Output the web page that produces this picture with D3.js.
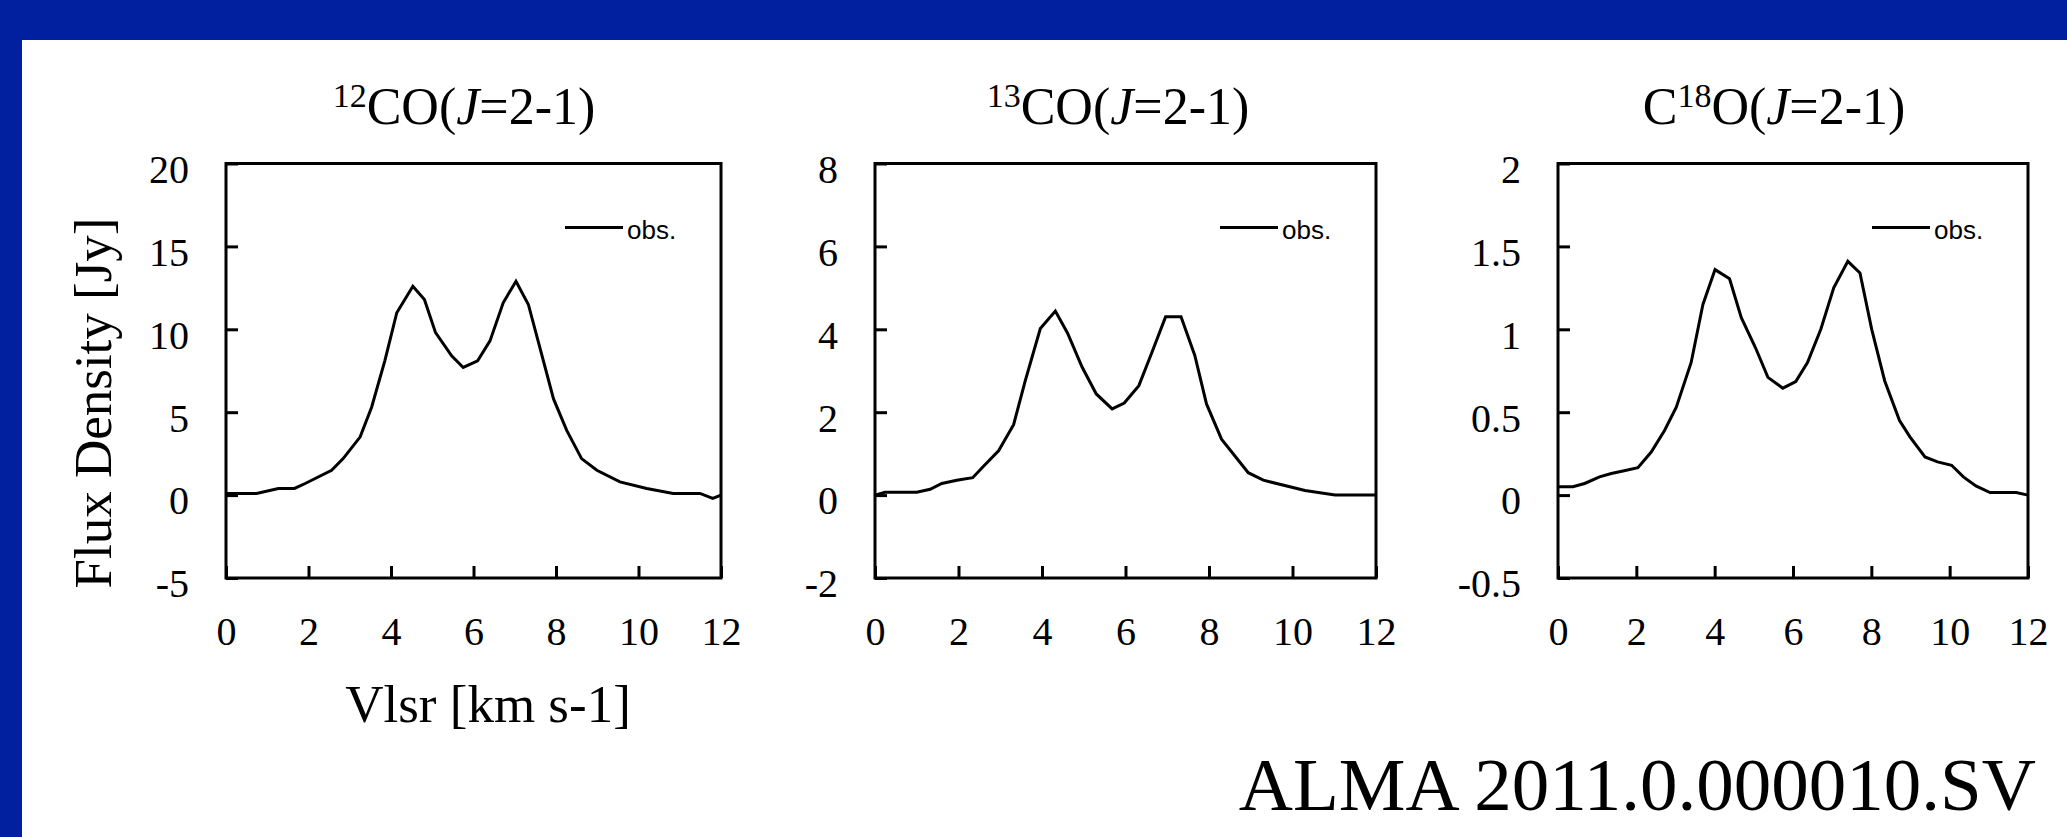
<!DOCTYPE html>
<html>
<head>
<meta charset="utf-8">
<script src="https://cdn.jsdelivr.net/npm/d3@7"></script>
<style>
  html, body { margin: 0; padding: 0; background: #fff; }
  svg { display: block; }
  .serif { font-family: "Liberation Serif", "Times New Roman", serif; fill: #000; }
  .tick text { font-family: "Liberation Serif", "Times New Roman", serif; font-size: 40px; fill: #000; }
  .legend-text { font-family: "Liberation Sans", Arial, sans-serif; font-size: 26px; fill: #000; }
</style>
</head>
<body>
<svg id="chart" width="2067" height="837"></svg>
<script>
// velocity axis (km/s), shared by all panels
const velocityTicks = [0, 2, 4, 6, 8, 10, 12];

// 12CO(J=2-1)
const co12Vel = [0, 0.74, 1.27, 1.66, 1.92, 2.56, 2.84, 3.25, 3.53, 3.85, 4.14, 4.53, 4.81, 5.08, 5.47, 5.75,
  6.1, 6.4, 6.72, 7.03, 7.33, 7.63, 7.94, 8.26, 8.62, 8.99, 9.55, 10.2, 10.84, 11.49, 11.8, 12.0];
const co12Flux = [0.1, 0.1, 0.4, 0.4, 0.7, 1.5, 2.2, 3.5, 5.3, 8.1, 11.0, 12.6, 11.8, 9.8, 8.4, 7.7,
  8.1, 9.3, 11.6, 12.9, 11.5, 8.7, 5.8, 3.9, 2.2, 1.5, 0.8, 0.4, 0.1, 0.1, -0.2, 0.0];
const co12Ticks = [-5, 0, 5, 10, 15, 20];

// 13CO(J=2-1)
const co13Vel = [0, 0.24, 1.0, 1.32, 1.6, 1.96, 2.34, 2.64, 2.96, 3.32, 3.6, 3.96, 4.32, 4.61, 4.96, 5.3,
  5.68, 5.97, 6.32, 6.62, 6.96, 7.33, 7.66, 7.94, 8.3, 8.94, 9.3, 10.3, 11.02, 12.0];
const co13Flux = [0, 0.07, 0.07, 0.14, 0.28, 0.36, 0.42, 0.74, 1.07, 1.7, 2.76, 4.02, 4.44, 3.91, 3.09, 2.44,
  2.08, 2.22, 2.64, 3.41, 4.3, 4.3, 3.37, 2.2, 1.35, 0.54, 0.36, 0.11, 0.0, 0.0];
const co13Ticks = [-2, 0, 2, 4, 6, 8];

// C18O(J=2-1)
const c18oVel = [0, 0.38, 0.68, 1.06, 1.36, 1.66, 2.04, 2.38, 2.72, 3.02, 3.4, 3.7, 4.01, 4.38, 4.68, 5.04,
  5.36, 5.74, 6.07, 6.37, 6.71, 7.04, 7.4, 7.71, 8.01, 8.34, 8.72, 8.99, 9.37, 9.69, 10.05, 10.35,
  10.67, 11.03, 11.7, 12.0];
const c18oFlux = [0.05, 0.05, 0.07, 0.11, 0.13, 0.145, 0.165, 0.26, 0.39, 0.53, 0.8, 1.15, 1.36, 1.305, 1.07, 0.89,
  0.71, 0.645, 0.685, 0.8, 1.0, 1.25, 1.41, 1.34, 1.0, 0.69, 0.45, 0.35, 0.23, 0.2, 0.18, 0.11,
  0.055, 0.015, 0.015, 0.0];
const c18oTicks = [-0.5, 0, 0.5, 1, 1.5, 2];

const legendLabel = "obs.";
const xAxisTitle = "Vlsr [km s-1]";
const yAxisTitle = "Flux Density [Jy]";
const footerText = "ALMA 2011.0.000010.SV";

// layout
const W = 2067, H = 837;
const BLUE = "#0020a0";
const plotTop = 163.5, plotBottom = 578;

const panels = [
  {
    vel: co12Vel, flux: co12Flux, ticks: co12Ticks, left: 226, right: 721, titleX: 464,
    title: [{ t: "12", sup: true }, { t: "CO(" }, { t: "J", it: true }, { t: "=2-1)" }],
  },
  {
    vel: co13Vel, flux: co13Flux, ticks: co13Ticks, left: 875, right: 1376, titleX: 1118,
    title: [{ t: "13", sup: true }, { t: "CO(" }, { t: "J", it: true }, { t: "=2-1)" }],
  },
  {
    vel: c18oVel, flux: c18oFlux, ticks: c18oTicks, left: 1558, right: 2028, titleX: 1774,
    title: [{ t: "C" }, { t: "18", sup: true }, { t: "O(" }, { t: "J", it: true }, { t: "=2-1)" }],
  },
];

// plain hyphen for negatives, like the original Excel labels
const fmt = (d) => String(d);

const svg = d3.select("#chart");

// slide background
svg.append("rect").attr("width", W).attr("height", H).attr("fill", "#fff");
svg.append("rect").attr("width", W).attr("height", 40).attr("fill", BLUE);
svg.append("rect").attr("width", 22).attr("height", H).attr("fill", BLUE);

panels.forEach((p, i) => {
  const x = d3.scaleLinear().domain([0, 12]).range([p.left, p.right]);
  const y = d3.scaleLinear()
    .domain(d3.extent(p.ticks))
    .range([plotBottom, plotTop]);

  const g = svg.append("g").attr("class", "panel");

  // x axis, ticks pointing inward
  const xAxis = g.append("g")
    .attr("transform", `translate(0,${plotBottom})`)
    .call(d3.axisBottom(x).tickValues(velocityTicks).tickFormat(fmt)
      .tickSizeInner(-12).tickSizeOuter(0).tickPadding(39));
  xAxis.select(".domain").remove();
  xAxis.selectAll(".tick line").attr("stroke", "#000").attr("stroke-width", 3);

  // y axis
  const yAxis = g.append("g")
    .attr("transform", `translate(${p.left},0)`)
    .call(d3.axisLeft(y).tickValues(p.ticks).tickFormat(fmt)
      .tickSizeInner(-12).tickSizeOuter(0).tickPadding(37));
  yAxis.select(".domain").remove();
  yAxis.selectAll(".tick line").attr("stroke", "#000").attr("stroke-width", 3);
  yAxis.selectAll(".tick text").attr("dy", "0.47em");

  // plot box
  g.append("rect")
    .attr("x", p.left).attr("y", plotTop)
    .attr("width", p.right - p.left).attr("height", plotBottom - plotTop)
    .attr("fill", "none").attr("stroke", "#000").attr("stroke-width", 3);

  // spectrum
  const pts = p.vel.map((v, k) => [v, p.flux[k]]);
  g.append("path")
    .datum(pts)
    .attr("fill", "none")
    .attr("stroke", "#000")
    .attr("stroke-width", 3)
    .attr("d", d3.line().x((d) => x(d[0])).y((d) => y(d[1])));

  // legend
  g.append("line")
    .attr("x1", p.right - 156).attr("x2", p.right - 98)
    .attr("y1", 227.5).attr("y2", 227.5)
    .attr("stroke", "#000").attr("stroke-width", 3);
  g.append("text")
    .attr("class", "legend-text")
    .attr("x", p.right - 94).attr("y", 239)
    .text(legendLabel);

  // title
  const title = g.append("text")
    .attr("class", "serif")
    .attr("x", p.titleX).attr("y", 124)
    .attr("text-anchor", "middle")
    .attr("font-size", 52);
  let shifted = false;
  p.title.forEach((part) => {
    const ts = title.append("tspan").text(part.t);
    if (part.sup) {
      ts.attr("font-size", 34).attr("dy", -17);
      shifted = true;
    } else if (shifted) {
      ts.attr("dy", 17);
      shifted = false;
    }
    if (part.it) ts.attr("font-style", "italic");
  });

  if (i === 0) {
    g.append("text")
      .attr("class", "serif")
      .attr("font-size", 53)
      .attr("text-anchor", "middle")
      .attr("x", 488).attr("y", 722)
      .text(xAxisTitle);
    g.append("text")
      .attr("class", "serif")
      .attr("font-size", 53)
      .attr("text-anchor", "middle")
      .attr("transform", "translate(111,403) rotate(-90)")
      .text(yAxisTitle);
  }
});

svg.append("text")
  .attr("class", "serif")
  .attr("font-size", 75)
  .attr("text-anchor", "end")
  .attr("x", 2036).attr("y", 810)
  .text(footerText);
</script>
</body>
</html>
